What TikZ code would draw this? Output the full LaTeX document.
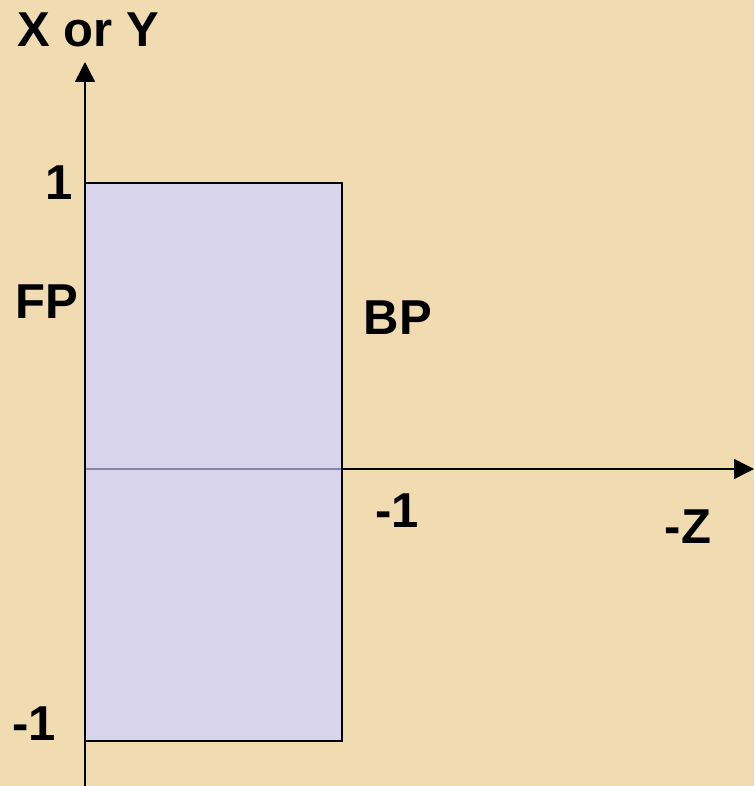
\documentclass[tikz,border=0pt]{standalone}
\usepackage{fontspec}
\setmainfont{Liberation Sans}
\usetikzlibrary{arrows.meta}
\definecolor{parch}{RGB}{240,220,176}
\definecolor{lav}{RGB}{216,212,236}
\definecolor{innerline}{RGB}{135,132,170}
\tikzset{
  lbl/.style={font=\fontsize{49}{52}\selectfont\bfseries, inner sep=0pt, anchor=center},
  axis/.style={line width=1.5pt, -{Triangle[length=20pt,width=20pt]}},
  plane/.style={draw=black, line width=1.6pt},
  planefill/.style={fill=lav}
}
\begin{document}
\begin{tikzpicture}[x=1pt,y=-1pt]
\fill[parch] (0,0) rectangle (754,786);
\useasboundingbox (0,0) rectangle (754,786);
\coordinate (ybot) at (85,786);
\coordinate (ytop) at (85,62);
\coordinate (xl) at (85,469);
\coordinate (xr) at (754,469);
\coordinate (pl) at (85,183);
\coordinate (pr) at (342,741);
\coordinate (xm) at (342,469);
\fill[planefill] (pl) rectangle (pr);
\draw[axis] (ybot) -- (ytop);
\draw[axis] (xl) -- (xr);
\draw[innerline, line width=1.5pt] (xl) -- (xm);
\draw[plane] (pl) rectangle (pr);
\node[lbl] (xy) at (88,30) {X or Y};
\node[lbl] (one) at (59,183) {1};
\node[lbl] (fp) at (47,302) {FP};
\node[lbl] (bp) at (398,318) {BP};
\node[lbl] (m1z) at (397,511) {-1};
\node[lbl] (mz) at (688,527) {-Z};
\node[lbl] (m1y) at (34,724) {-1};
\end{tikzpicture}
\end{document}
